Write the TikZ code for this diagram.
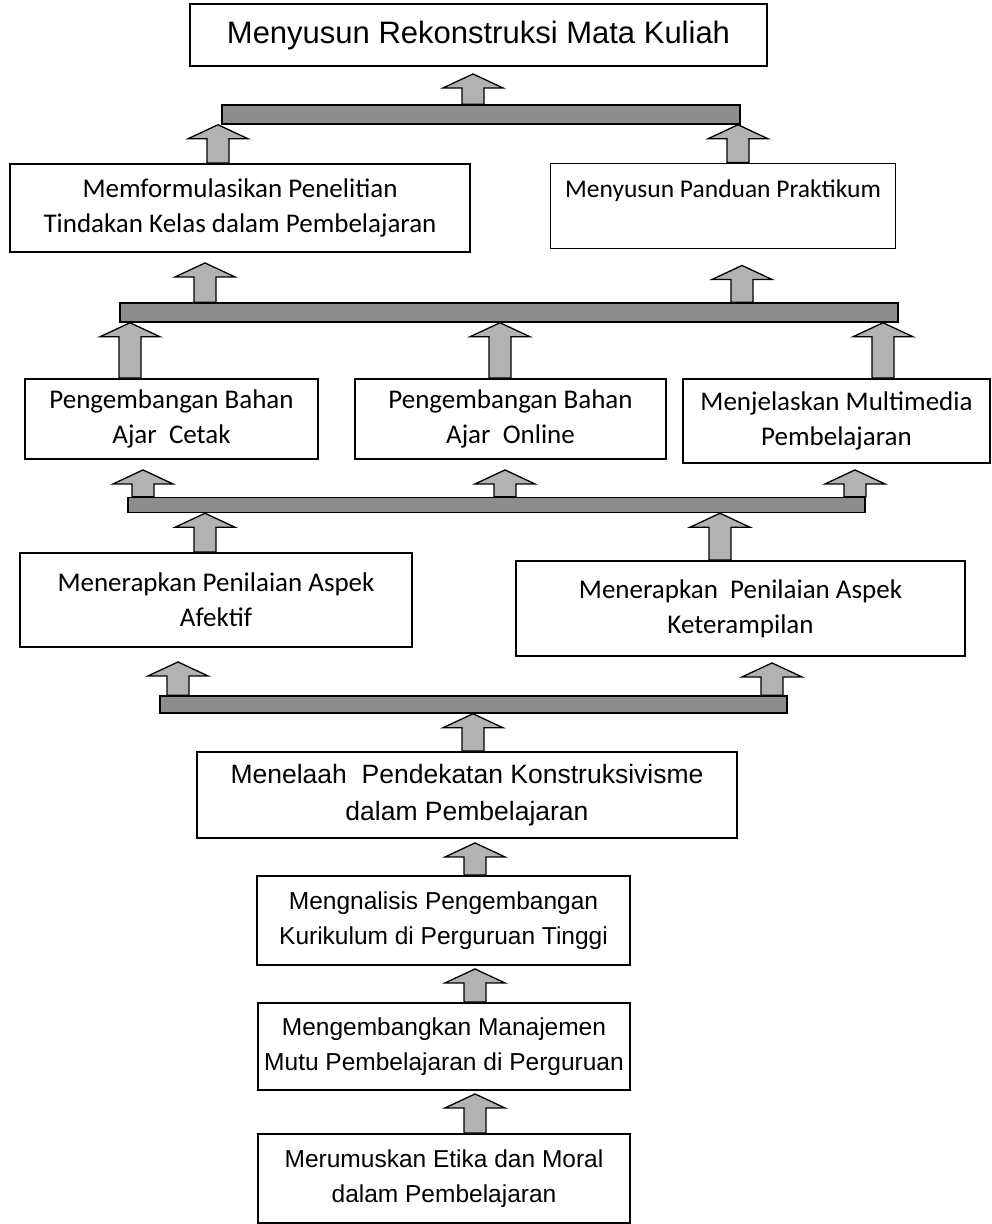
\documentclass[tikz,border=0pt]{standalone}
\usepackage{fontspec}
\setmainfont{Liberation Sans}
\newfontfamily\calibfont{Carlito}
\usetikzlibrary{calc}

\tikzset{
  box/.style={draw, line width=1.9pt, align=center, inner sep=0pt},
  arialtxt/.style={font=\fontsize{24.5}{35}\selectfont},
  calibtxt/.style={font=\calibfont\fontsize{27}{35}\selectfont},
  bar/.style={draw, line width=1.5pt, fill=black!45, inner sep=0pt},
  blk/.style={draw, line width=1.3pt, fill=black!30,
    to path={let \p1=(\tikztostart), \p2=(\tikztotarget) in
      (\x1-11pt,\y1) -- (\x1-11pt,\y2-#1-14pt) -- (\x1-30pt,\y2-#1-14pt) -- (\x1,\y2-#1)
      -- (\x1+30pt,\y2-#1-14pt) -- (\x1+11pt,\y2-#1-14pt) -- (\x1+11pt,\y1) -- cycle}},
  blk/.default=0pt
}

\begin{document}
\begin{tikzpicture}[x=1pt, y=-1pt]
        \useasboundingbox (0,0) rectangle (992,1224);

        % Boxes
        \node[box, font=\fontsize{31}{36}\selectfont, minimum width=577pt, minimum height=62pt] (top) at (478.5,35) {Menyusun Rekonstruksi Mata Kuliah};
        \node[box, calibtxt, minimum width=460pt, minimum height=88pt] (ptk) at (240,208) {Memformulasikan Penelitian\\Tindakan Kelas dalam Pembelajaran};
        \node[box, font=\calibfont\fontsize{25.5}{35}\selectfont, minimum width=345pt, minimum height=85pt] (praktikum) at (723,206) {Menyusun Panduan Praktikum\\\mbox{}};
        \node[box, calibtxt, minimum width=293pt, minimum height=80pt] (cetak) at (171.5,419) {Pengembangan Bahan\\Ajar~~Cetak};
        \node[box, calibtxt, minimum width=311pt, minimum height=80pt] (online) at (510.5,419) {Pengembangan Bahan\\Ajar~~Online};
        \node[box, calibtxt, minimum width=307pt, minimum height=84pt] (multimedia) at (836.5,421) {Menjelaskan Multimedia\\Pembelajaran};
        \node[box, calibtxt, minimum width=392pt, minimum height=94pt] (afektif) at (216,600) {Menerapkan Penilaian Aspek\\Afektif};
        \node[box, calibtxt, minimum width=449pt, minimum height=95pt] (terampil) at (740.5,608.5) {Menerapkan~~Penilaian Aspek\\Keterampilan};
        \node[box, font=\fontsize{26.5}{37}\selectfont, minimum width=540pt, minimum height=86pt] (konstruk) at (467,795) {Menelaah~~Pendekatan Konstruksivisme\\dalam Pembelajaran};
        \node[box, arialtxt, minimum width=373pt, minimum height=89pt] (kurikulum) at (443.5,920.5) {Mengnalisis Pengembangan\\Kurikulum di Perguruan Tinggi};
        \node[box, arialtxt, minimum width=372pt, minimum height=87pt] (mutu) at (444,1046.5) {Mengembangkan Manajemen\\Mutu Pembelajaran di Perguruan};
        \node[box, arialtxt, minimum width=372pt, minimum height=89pt] (etika) at (444,1178.5) {Merumuskan Etika dan Moral\\dalam Pembelajaran};

        % Bars
        \node[bar, minimum width=518pt, minimum height=19pt] (bar1) at (481,114.5) {};
        \node[bar, minimum width=778pt, minimum height=19pt] (bar2) at (509,312.5) {};
        \node[bar, minimum width=737pt, minimum height=15pt] (bar3) at (496.5,505) {};
        \node[bar, minimum width=627pt, minimum height=17pt] (bar4) at (473.5,704.5) {};

        % Arrows
        \draw[blk=7pt] (bar1.north -| 473,0) to (top.south -| 473,0);
        \draw[blk] (ptk.north -| 218,0) to (bar1.south -| 218,0);
        \draw[blk] (praktikum.north -| 738,0) to (bar1.south -| 738,0);
        \draw[blk=10pt] (bar2.north -| 205,0) to (ptk.south -| 205,0);
        \draw[blk=16pt] (bar2.north -| 742,0) to (praktikum.south -| 742,0);
        \draw[blk] (cetak.north -| 130,0) to (bar2.south -| 130,0);
        \draw[blk] (online.north -| 500,0) to (bar2.south -| 500,0);
        \draw[blk] (multimedia.north -| 883,0) to (bar2.south -| 883,0);
        \draw[blk=10pt] (bar3.north -| 143,0) to (cetak.south -| 143,0);
        \draw[blk=10pt] (bar3.north -| 505,0) to (online.south -| 505,0);
        \draw[blk=6pt] (bar3.north -| 855,0) to (multimedia.south -| 855,0);
        \draw[blk] (afektif.north -| 205,0) to (bar3.south -| 205,0);
        \draw[blk] (terampil.north -| 720,0) to (bar3.south -| 720,0);
        \draw[blk=14pt] (bar4.north -| 178,0) to (afektif.south -| 178,0);
        \draw[blk=6pt] (bar4.north -| 772,0) to (terampil.south -| 772,0);
        \draw[blk] (konstruk.north -| 473,0) to (bar4.south -| 473,0);
        \draw[blk=4pt] (kurikulum.north -| 475,0) to (konstruk.south -| 475,0);
        \draw[blk=3pt] (mutu.north -| 475,0) to (kurikulum.south -| 475,0);
        \draw[blk=3pt] (etika.north -| 475,0) to (mutu.south -| 475,0);
    \end{tikzpicture}
\end{document}
